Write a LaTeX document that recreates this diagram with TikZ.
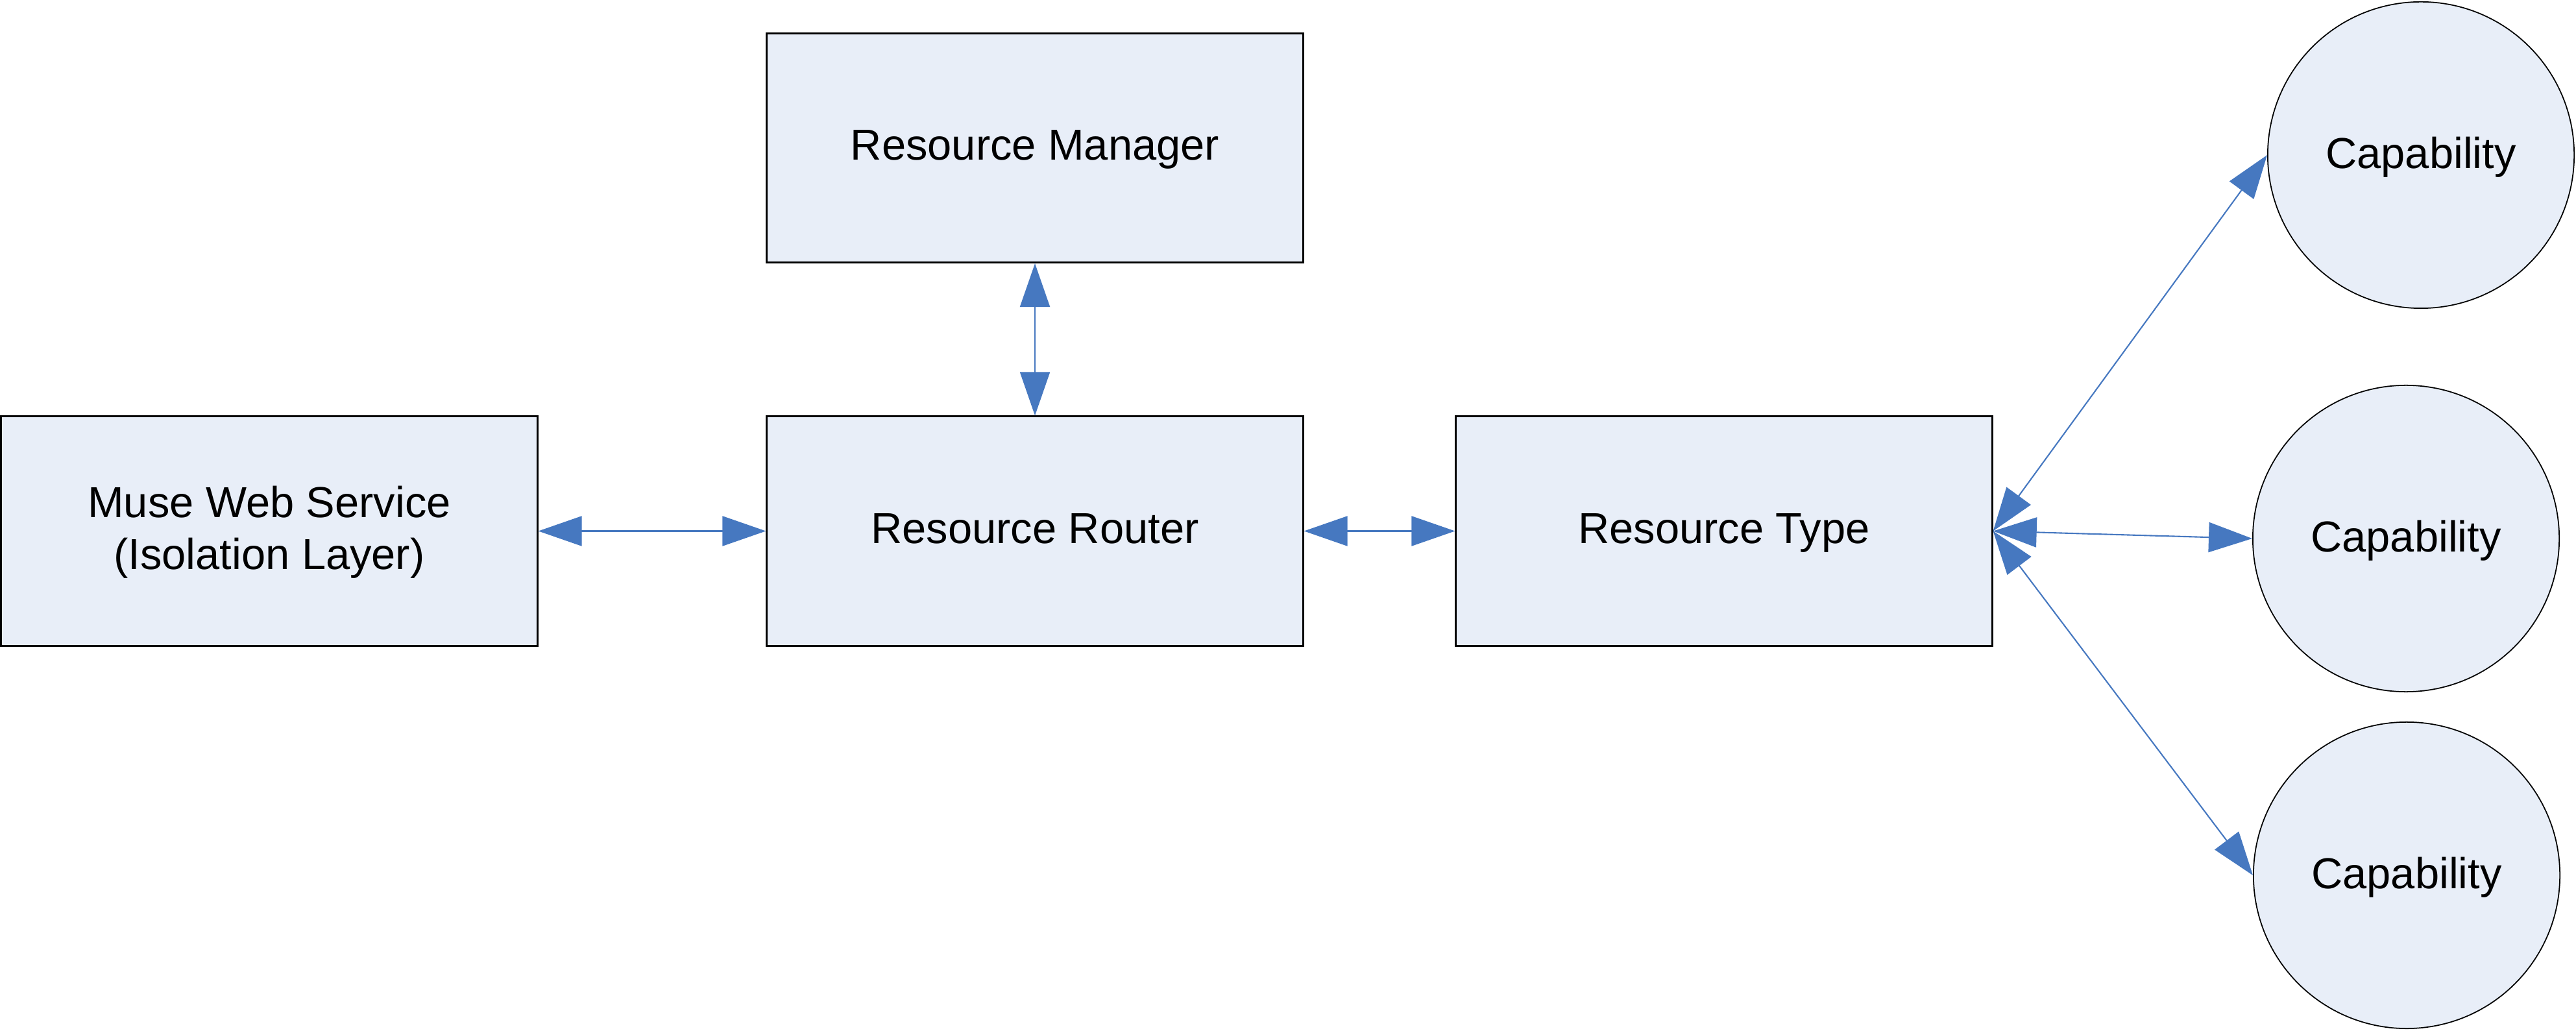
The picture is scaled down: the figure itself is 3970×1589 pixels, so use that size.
\documentclass[tikz,border=0pt]{standalone}
\usepackage{fontspec}
\setmainfont{Liberation Sans}
\usepackage{xcolor}
\usetikzlibrary{arrows.meta}
\definecolor{boxfill}{RGB}{232,238,248}
\definecolor{linkblue}{RGB}{70,120,192}
\tikzset{
  block/.style={draw=black,line width=0.8pt,fill=boxfill,minimum width=8.26cm,minimum height=3.53cm,inner sep=0pt,align=center,text height=0.48cm,text depth=0.1cm,font=\fontsize{19}{22.7}\selectfont},
  capnode/.style={circle,draw=black,line width=0.5pt,fill=boxfill,minimum size=4.72cm,inner sep=0pt,text height=0.48cm,text depth=0.08cm,font=\fontsize{19}{22.7}\selectfont},
  link/.style={linkblue,line width=0.6pt,{Triangle[length=0.67cm,width=0.46cm]}-{Triangle[length=0.67cm,width=0.46cm]}}
}

\begin{document}
\begin{tikzpicture}[x=0.01cm,y=-0.01cm]
    \useasboundingbox (0,0) rectangle (3970,1589);
    \node[block,text height=1.27cm] (muse) at (415,818.5) {Muse Web Service\\(Isolation Layer)};
    \node[block] (router) at (1595,818.5) {Resource Router};
    \node[block] (manager) at (1595,228) {Resource Manager};
    \node[block] (type) at (2657,818.5) {Resource Type};
    \node[capnode] (cap1) at (3731,239) {Capability};
    \node[capnode] (cap2) at (3708,830) {Capability};
    \node[capnode] (cap3) at (3709,1349) {Capability};
    \draw[link] (muse) -- (router);
    \draw[link] (manager) -- (router);
    \draw[link] (router) -- (type);
    \foreach \c in {cap1,cap2,cap3} {
      \draw[link] (type.east) -- (\c.west);
    }
  \end{tikzpicture}
\end{document}
